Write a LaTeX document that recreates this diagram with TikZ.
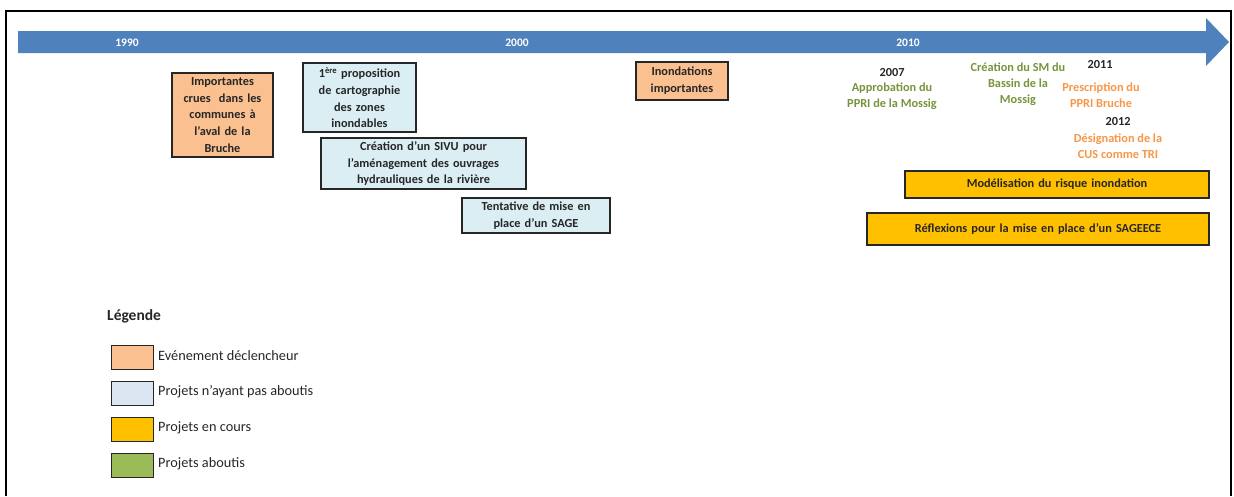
\documentclass[tikz,border=0pt]{standalone}
\usepackage{fontspec}
\setmainfont{Carlito}

\definecolor{arrowblue}{RGB}{79,129,189}
\definecolor{evtorange}{RGB}{250,192,144}
\definecolor{failblue}{RGB}{219,238,244}
\definecolor{legblue}{RGB}{220,230,242}
\definecolor{runyellow}{RGB}{255,192,0}
\definecolor{donegreen}{RGB}{155,187,89}
\definecolor{txtgreen}{RGB}{119,147,60}
\definecolor{txtorange}{RGB}{247,150,70}
\definecolor{inkdark}{RGB}{38,38,38}

\newcommand\diagboxfont{\bfseries\fontsize{12.3}{16.8}\selectfont}
\newcommand\diagnotefont{\bfseries\fontsize{12.3}{16}\selectfont}

\tikzset{
  box/.style={draw=inkdark, line width=1.1pt, align=center, inner xsep=2pt,
    inner ysep=0pt, font=\diagboxfont, text=inkdark},
  evt/.style={box, fill=evtorange},
  fail/.style={box, fill=failblue},
  running/.style={box, fill=runyellow},
  yearlbl/.style={font=\bfseries\fontsize{11.5}{13}\selectfont, text=white, inner sep=0pt},
  datelbl/.style={font=\diagnotefont, text=inkdark, inner sep=0pt},
  note/.style={align=center, font=\diagnotefont, inner sep=0pt},
  swatch/.style={draw=inkdark, line width=1pt, minimum width=42pt,
    minimum height=24pt, inner sep=0pt},
  legtext/.style={anchor=west, font=\fontsize{14.3}{16}\selectfont, text=inkdark, inner sep=0pt}
}

\begin{document}
\begin{tikzpicture}[x=1pt,y=-1pt]
\useasboundingbox (0,0) rectangle (1234,496);

% open frame
\draw[line width=2pt] (6,496) -- (6,11) -- (1231,11) -- (1231,496);

% time axis
\fill[arrowblue] (18,31) -- (1206,31) -- (1206,18) -- (1229,42)
  -- (1206,66) -- (1206,53) -- (18,53) -- cycle;
\node[yearlbl] (y1990) at (127,43) {1990};
\node[yearlbl] (y2000) at (517,43) {2000};
\node[yearlbl] (y2010) at (908,43) {2010};

% events and projects
\node[evt, text width=97pt, minimum height=84pt] (crues) at (222.5,115)
  {Importantes\\crues\ \ dans les\\communes à\\l’aval de la\\Bruche};
\node[fail, text width=109pt, minimum height=69pt] (carto) at (359.5,97.5)
  {1\textsuperscript{ère} proposition\\de cartographie\\des zones\\inondables};
\node[fail, text width=201pt, minimum height=51pt] (sivu) at (423.5,163.5)
  {Création d’un SIVU pour\\l’aménagement des ouvrages\\hydrauliques de la rivière};
\node[fail, text width=144pt, minimum height=35pt] (sage) at (536,215.5)
  {Tentative de mise en\\place d’un SAGE};
\node[evt, text width=88pt, minimum height=38pt] (inond) at (682,81)
  {Inondations\\importantes};

% dated milestones
\node[datelbl] (d2007) at (892,73) {2007};
\node[note, text=txtgreen] (ppri) at (892,96) {Approbation du\\PPRI de la Mossig};
\node[note, text=txtgreen] (sm) at (1018,84) {Création du SM du\\Bassin de la\\Mossig};
\node[datelbl] (d2011) at (1100,65) {2011};
\node[note, text=txtorange] (presc) at (1101,95) {Prescription du\\PPRI Bruche};
\node[datelbl] (d2012) at (1118,122) {2012};
\node[note, text=txtorange] (tri) at (1118,146) {Désignation de la\\CUS comme TRI};

% ongoing projects
\node[running, text width=300pt, minimum height=27pt] (model) at (1057,184.5)
  {Modélisation du risque inondation};
\node[running, text width=338pt, minimum height=32pt] (reflex) at (1038,229)
  {Réflexions pour la mise en place d’un SAGEECE};

% legend
\node[anchor=west, font=\bfseries\fontsize{15.5}{18}\selectfont, text=inkdark, inner sep=0pt]
  (legtitle) at (107,316) {Légende};
\node[swatch, fill=evtorange] (sw1) at (132,357) {};
\node[swatch, fill=legblue] (sw2) at (132,393) {};
\node[swatch, fill=runyellow] (sw3) at (132,429) {};
\node[swatch, fill=donegreen] (sw4) at (132,465) {};
\node[legtext] (lt1) at (158,356) {Evénement déclencheur};
\node[legtext] (lt2) at (158,392) {Projets n’ayant pas aboutis};
\node[legtext] (lt3) at (158,428) {Projets en cours};
\node[legtext] (lt4) at (158,464) {Projets aboutis};
\end{tikzpicture}
\end{document}
